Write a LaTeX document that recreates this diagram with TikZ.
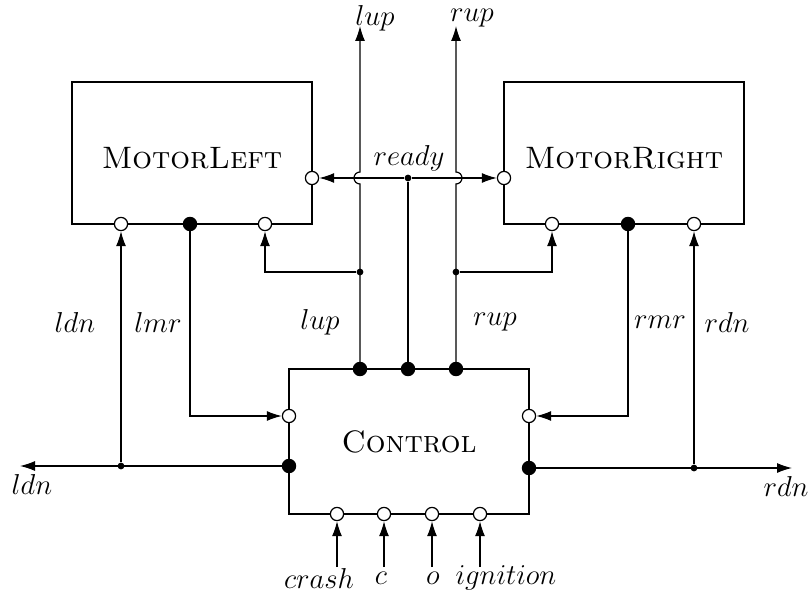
\documentclass[tikz,border=0pt]{standalone}
\usetikzlibrary{arrows.meta}
\begin{document}
\begin{tikzpicture}[x=0.5pt,y=-0.5pt,
  font=\fontsize{14.4}{17}\selectfont,
  line width=0.6pt,
  arr/.style={-{Latex[length=7.5pt,width=5pt]}},
  oport/.style={circle,draw,fill=white,inner sep=0pt,minimum size=6.6pt},
  fport/.style={circle,draw,fill=black,inner sep=0pt,minimum size=6.6pt},
  jdot/.style={circle,fill=black,inner sep=0pt,minimum size=3.4pt},
  lbl/.style={inner sep=0pt},
  boxlbl/.style={inner sep=0pt,font=\fontsize{15.5}{18}\selectfont}]
\useasboundingbox (0,0) rectangle (812,598);
% boxes
\draw (72,82) rectangle (312,224);
\draw (504,82) rectangle (744,224);
\draw (289,369) rectangle (529,514);
\node[boxlbl] (tML) at (192,158) {\textsc{MotorLeft}};
\node[boxlbl] (tMR) at (624,158) {\textsc{MotorRight}};
\node[boxlbl] (tC) at (409,442) {\textsc{Control}};
% ports MotorLeft
\node[oport] (mlA) at (121,224) {};
\node[fport] (mlB) at (190,224) {};
\node[oport] (mlC) at (265,224) {};
\node[oport] (mlR) at (312,178) {};
% ports MotorRight
\node[oport] (mrL) at (504,178) {};
\node[oport] (mrA) at (552,224) {};
\node[fport] (mrB) at (628,224) {};
\node[oport] (mrC) at (694,224) {};
% ports Control
\node[fport] (cT1) at (360,369) {};
\node[fport] (cT2) at (408,369) {};
\node[fport] (cT3) at (456,369) {};
\node[oport] (cL1) at (289,416) {};
\node[fport] (cL2) at (289,466) {};
\node[oport] (cR1) at (529,416) {};
\node[fport] (cR2) at (529,468) {};
\node[oport] (cB1) at (337,514) {};
\node[oport] (cB2) at (384,514) {};
\node[oport] (cB3) at (432,514) {};
\node[oport] (cB4) at (480,514) {};
% junctions
\node[jdot] (jLup) at (360,272) {};
\node[jdot] (jRup) at (456,272) {};
\node[jdot] (jRdy) at (408,178) {};
\node[jdot] (jLdn) at (121,466) {};
\node[jdot] (jRdn) at (694,468) {};
% free ends
\coordinate (lupTop) at (360,26);
\coordinate (rupTop) at (456,26);
\coordinate (hopL) at (360,184);
\coordinate (hopR) at (456,184);
\coordinate (ldnEnd) at (20,466);
\coordinate (rdnEnd) at (792,468);
\coordinate (iB1) at (337,567);
\coordinate (iB2) at (384,567);
\coordinate (iB3) at (432,567);
\coordinate (iB4) at (480,567);
% connectors
\draw[arr] (cT1) -- (hopL) arc[start angle=-90,end angle=-270,radius=3pt] -- (lupTop);
\draw[arr] (cT3) -- (hopR) arc[start angle=-90,end angle=90,radius=3pt] -- (rupTop);
\draw (cT2) -- (jRdy);
\draw[arr] (jRdy) -- (mlR);
\draw[arr] (jRdy) -- (mrL);
\draw[arr] (jLup) -| (mlC);
\draw[arr] (jRup) -| (mrA);
\draw[arr] (mlB) |- (cL1);
\draw[arr] (mrB) |- (cR1);
\draw[arr] (cL2) -- (ldnEnd);
\draw[arr] (jLdn) -- (mlA);
\draw[arr] (cR2) -- (rdnEnd);
\draw[arr] (jRdn) -- (mrC);
\draw[arr] (iB1) -- (cB1);
\draw[arr] (iB2) -- (cB2);
\draw[arr] (iB3) -- (cB3);
\draw[arr] (iB4) -- (cB4);
% labels
\node[lbl] at (375,18) {$lup$};
\node[lbl] at (472,18) {$rup$};
\node[lbl] at (409,158) {$ready$};
\node[lbl] at (75,322) {$ldn$};
\node[lbl] at (158,322) {$lmr$};
\node[lbl] at (320,322) {$lup$};
\node[lbl] at (495,322) {$rup$};
\node[lbl] at (660,322) {$rmr$};
\node[lbl] at (727,322) {$rdn$};
\node[lbl] at (32,484) {$ldn$};
\node[lbl] at (786,486) {$rdn$};
\node[lbl] at (319,578) {$crash$};
\node[lbl] at (381,578) {$c$};
\node[lbl] at (433,578) {$o$};
\node[lbl] at (506,578) {$ignition$};
\end{tikzpicture}
\end{document}
